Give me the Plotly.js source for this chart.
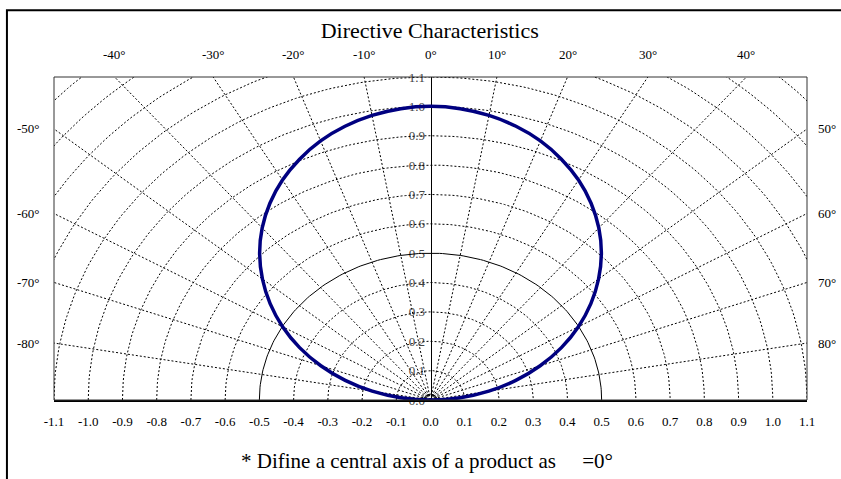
<!DOCTYPE html>
<html>
<head>
<meta charset="utf-8">
<script src="https://cdn.plot.ly/plotly-3.0.1.min.js"></script>
<style>html,body{margin:0;padding:0;background:#fff;overflow:hidden;}#chart{width:841px;height:479px;}</style>
</head>
<body>
<div id="chart"></div>
<script>
// ---- Data ----
const angleDeg = [-90,-85,-80,-75,-70,-65,-60,-55,-50,-45,-40,-35,-30,-25,-20,-15,-10,-5,0,
                  5,10,15,20,25,30,35,40,45,50,55,60,65,70,75,80,85,90];
const radius   = [0.000,0.087,0.173,0.258,0.341,0.422,0.499,0.572,0.641,0.706,0.765,0.818,0.865,0.905,0.939,0.965,0.984,0.996,1.000,
                  0.996,0.984,0.965,0.939,0.905,0.865,0.818,0.765,0.706,0.641,0.572,0.499,0.422,0.341,0.258,0.173,0.087,0.000];
const xTickVals = [-1.1,-1.0,-0.9,-0.8,-0.7,-0.6,-0.5,-0.4,-0.3,-0.2,-0.1,0,0.1,0.2,0.3,0.4,0.5,0.6,0.7,0.8,0.9,1.0,1.1];
const xTickText = ["-1.1","-1.0","-0.9","-0.8","-0.7","-0.6","-0.5","-0.4","-0.3","-0.2","-0.1","0.0","0.1","0.2","0.3","0.4","0.5","0.6","0.7","0.8","0.9","1.0","1.1"];
const yTickVals = [0,0.1,0.2,0.3,0.4,0.5,0.6,0.7,0.8,0.9,1.0,1.1];
const yTickText = ["0.0","0.1","0.2","0.3","0.4","0.5","0.6","0.7","0.8","0.9","1.0","1.1"];
const topAngleLabels  = [-40,-30,-20,-10,0,10,20,30,40];
const sideAngleLabels = [-80,-70,-60,-50,50,60,70,80];
const gridRadii = [0.1,0.2,0.3,0.4,0.6,0.7,0.8,0.9,1.0,1.1,1.2,1.3,1.4,1.5,1.6,1.7,1.8];
const solidRadii = [0.02,0.5];
const spokeAngles = [-80,-70,-60,-50,-40,-30,-20,-10,10,20,30,40,50,60,70,80];

const FONT = "Liberation Serif";
const rad = d => d*Math.PI/180;

const traces = [];
function arc(r, dash, width){
  const xs=[], ys=[];
  for(let a=-90;a<=90;a+=1){ xs.push(r*Math.sin(rad(a))); ys.push(r*Math.cos(rad(a))); }
  traces.push({x:xs,y:ys,type:'scatter',mode:'lines',hoverinfo:'skip',showlegend:false,
    line:{color:'#000',width:width,dash:dash}});
}
gridRadii.forEach(r=>arc(r,'2px,2px',1));
solidRadii.forEach(r=>arc(r,'solid',1));
spokeAngles.forEach(a=>{
  traces.push({x:[0,3*Math.sin(rad(a))],y:[0,3*Math.cos(rad(a))],type:'scatter',mode:'lines',
    hoverinfo:'skip',showlegend:false,line:{color:'#000',width:1,dash:'2px,2px'}});
});
// directive characteristic curve
traces.push({
  x: angleDeg.map((a,i)=>radius[i]*Math.sin(rad(a))),
  y: angleDeg.map((a,i)=>radius[i]*Math.cos(rad(a))),
  type:'scatter',mode:'lines',line:{color:'#000080',width:3.5,shape:'spline',smoothing:1},
  hoverinfo:'skip',showlegend:false
});

const annotations = [];
topAngleLabels.forEach(a=>{
  annotations.push({x:1.1*Math.tan(rad(a)),y:1.1,xref:'x',yref:'y',text:a+'°',showarrow:false,
    yshift:23,xanchor:'center',yanchor:'middle',font:{family:FONT,size:13,color:'#000'}});
});
sideAngleLabels.forEach(a=>{
  const left = a<0;
  annotations.push({x:left?-1.1:1.1,y:1.1/Math.tan(rad(Math.abs(a))),xref:'x',yref:'y',text:a+'°',showarrow:false,
    xshift:left?-12:9,xanchor:left?'right':'left',yanchor:'middle',font:{family:FONT,size:13,color:'#000'}});
});
annotations.push({x:0.5,y:-0.19,xref:'paper',yref:'paper',
  text:'* Difine a central axis of a product as\u00a0\u00a0\u00a0\u00a0\u00a0=0°',
  showarrow:false,xanchor:'center',yanchor:'middle',xshift:-4,font:{family:FONT,size:21,color:'#000'}});

const layout = {
  width:841,height:479,
  margin:{l:54,r:34,t:77,b:79},
  paper_bgcolor:'#fff',plot_bgcolor:'#fff',
  title:{text:'Directive Characteristics',x:0.511,xanchor:'center',y:1-30/479,yanchor:'middle',
    font:{family:FONT,size:22,color:'#000'}},
  xaxis:{range:[-1.1,1.1],tickvals:xTickVals,ticktext:xTickText,showgrid:false,zeroline:false,
    showline:true,linecolor:'#000',linewidth:2,ticks:'',ticklabelstandoff:8,
    tickfont:{family:FONT,size:13,color:'#000'},fixedrange:true},
  yaxis:{range:[0,1.1],tickvals:yTickVals,ticktext:yTickText,showgrid:false,zeroline:false,
    anchor:'free',position:0.5,showline:true,linecolor:'#000',linewidth:1,ticks:'',
    ticklabelstandoff:3,layer:'below traces',
    tickfont:{family:FONT,size:13,color:'#444'},fixedrange:true},
  shapes:[
    {type:'rect',xref:'paper',yref:'paper',x0:0,x1:1,y0:0,y1:1,line:{color:'#333',width:1}},
    {type:'rect',xref:'paper',yref:'paper',x0:-0.0625,x1:1.6,y0:-0.6,y1:1.207,line:{color:'#000',width:2}}
  ],
  annotations:annotations
};
Plotly.newPlot('chart',traces,layout,{staticPlot:true,displayModeBar:false});
</script>
</body>
</html>
